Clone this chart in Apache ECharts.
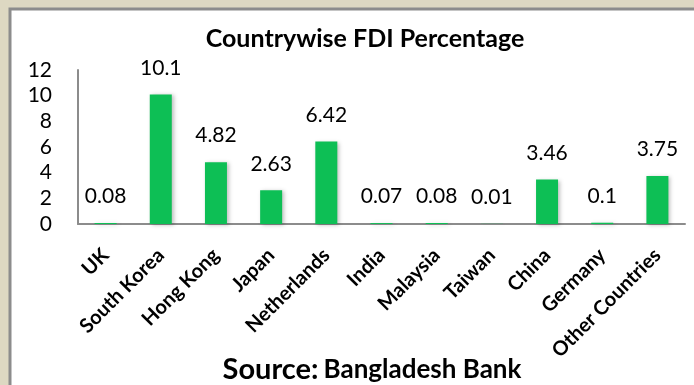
<!DOCTYPE html>
<html><head><meta charset="utf-8">
<script src="https://cdn.jsdelivr.net/npm/echarts@6/dist/echarts.min.js"></script>
<style>html,body{margin:0;padding:0;background:#fff}#c{width:694px;height:385px}</style>
</head><body><div id="c"></div>
<script>
const categories = ['UK','South Korea','Hong Kong','Japan','Netherlands','India','Malaysia','Taiwan','China','Germany','Other Countries'];
const values = [0.08, 10.1, 4.82, 2.63, 6.42, 0.07, 0.08, 0.01, 3.46, 0.1, 3.75];
const yTicks = [0, 2, 4, 6, 8, 10, 12];
const titleText = 'Countrywise FDI Percentage';
const sourceLabel = 'Source:';
const sourceName = 'Bangladesh Bank';

const F = 'Lato, "Open Sans", sans-serif';
const chart = echarts.init(document.getElementById('c'), null, {renderer:'canvas'});
chart.setOption({
  backgroundColor: '#DDD8C2',
  animation: false,
  graphic: [
    {type:'rect', shape:{x:10, y:9, width:700, height:400}, style:{fill:'#ffffff', stroke:'#8c8c8c', lineWidth:3}, z:-10}
  ],
  title: [
    {text: titleText, left: 360, top: 21, textAlign: 'center',
     textStyle:{fontFamily:F, fontWeight:'bold', fontSize:25, color:'#000'}},
    {text: '{a|' + sourceLabel + '} {b|' + sourceName + '}', left: 367, top: 350, textAlign:'center',
     textStyle:{rich:{a:{fontFamily:F, fontWeight:'bold', fontSize:29, color:'#000'}, b:{fontFamily:F, fontWeight:'bold', fontSize:26, color:'#000'}}}}
  ],
  grid: {left: 78, right: 9, top: 70, bottom: 161, containLabel: false},
  xAxis: {
    type: 'category', data: categories,
    axisLine: {show:true, lineStyle:{color:'#8c8c8c', width:2}},
    axisTick: {show:false},
    axisLabel: {rotate: 45, margin: 28, interval: 0, fontFamily:F, fontWeight:'bold', fontSize:20, color:'#000'}
  },
  yAxis: {
    type: 'value', min: 0, max: 12, interval: 2,
    axisLine: {show:true, lineStyle:{color:'#8c8c8c', width:2}},
    axisTick: {show:false},
    splitLine: {show:false},
    axisLabel: {margin: 26, fontFamily:F, fontSize:21, color:'#000',
      formatter: v => yTicks.includes(v) ? String(v) : ''}
  },
  series: [{
    type: 'bar', data: values, barWidth: 22,
    itemStyle: {color:'#0DBF55', shadowColor:'rgba(0,0,0,0.25)', shadowBlur:4, shadowOffsetX:2, shadowOffsetY:1},
    label: {show:true, position:'top', distance:16, fontFamily:F, fontSize:21, color:'#000',
      formatter: p => String(values[p.dataIndex])}
  }]
});
</script></body></html>
